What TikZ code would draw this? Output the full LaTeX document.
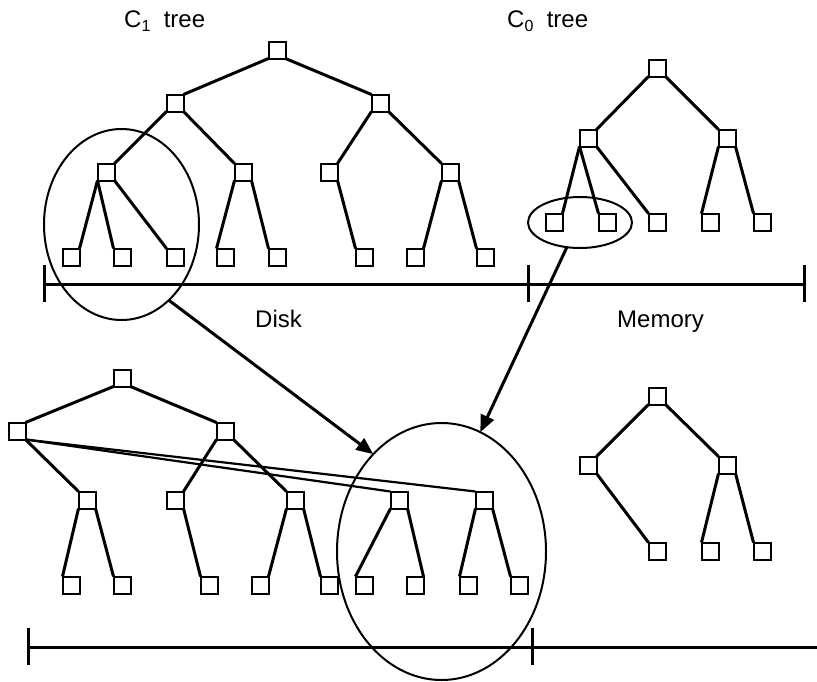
\documentclass[tikz,border=0pt]{standalone}
\usepackage{fontspec}
\setmainfont{Liberation Sans}
\usetikzlibrary{shapes.geometric,arrows.meta}
\newcommand{\treesub}[1]{\raisebox{-4.5pt}{\fontsize{16}{16}\selectfont #1}}

\begin{document}
\begin{tikzpicture}[x=1pt,y=-1pt,
    box/.style={draw,line width=2pt,minimum size=17pt,inner sep=0pt,outer sep=0pt},
    link/.style={line width=3pt},
    longlink/.style={line width=2.2pt},
    ring/.style={draw,ellipse,line width=2pt,inner sep=0pt,outer sep=0pt},
    axis/.style={line width=3pt},
    move/.style={line width=3pt,-{Triangle[length=17pt,width=14pt]}},
    lbl/.style={inner sep=0pt,anchor=base west,font=\fontsize{24}{28}\selectfont}]
    \useasboundingbox (0,0) rectangle (817,681);

    % labels
    \node[lbl] (c1lbl) at (124,27) {C\treesub{1}~~tree};
    \node[lbl] (c0lbl) at (507,27) {C\treesub{0}~~tree};
    \node[lbl] (disk) at (255,327) {Disk};
    \node[lbl] (mem) at (617,327) {Memory};

    % C1 tree (disk)
    \node[box] (c1r) at (277,50) {};
    \node[box] (c1a) at (175,103) {};
    \node[box] (c1b) at (380,103) {};
    \node[box] (c1aa) at (106,172) {};
    \node[box] (c1ab) at (243,172) {};
    \node[box] (c1ba) at (329,172) {};
    \node[box] (c1bb) at (450,172) {};
    \node[box] (c1aaa) at (71,257) {};
    \node[box] (c1aab) at (122,257) {};
    \node[box] (c1aac) at (175,257) {};
    \node[box] (c1aba) at (225,257) {};
    \node[box] (c1abb) at (277,257) {};
    \node[box] (c1baa) at (364,257) {};
    \node[box] (c1bba) at (415,257) {};
    \node[box] (c1bbb) at (485,257) {};

    \draw[link] (c1r.south west) -- (c1a.north east);
    \draw[link] (c1r.south east) -- (c1b.north west);
    \draw[link] (c1a.south west) -- (c1aa.north east);
    \draw[link] (c1a.south east) -- (c1ab.north west);
    \draw[link] (c1b.south west) -- (c1ba.north east);
    \draw[link] (c1b.south east) -- (c1bb.north west);
    \draw[link] (c1aa.south west) -- (c1aaa.north east);
    \draw[link] (c1aa.south west) -- (c1aab.north west);
    \draw[link] (c1aa.south east) -- (c1aac.north west);
    \draw[link] (c1ab.south west) -- (c1aba.north west);
    \draw[link] (c1ab.south east) -- (c1abb.north west);
    \draw[link] (c1ba.south east) -- (c1baa.north west);
    \draw[link] (c1bb.south west) -- (c1bba.north east);
    \draw[link] (c1bb.south east) -- (c1bbb.north west);

    % C0 tree (memory)
    \node[box] (c0r) at (657,68) {};
    \node[box] (c0a) at (588,138) {};
    \node[box] (c0b) at (727,138) {};
    \node[box] (c0aa) at (554,222) {};
    \node[box] (c0ab) at (607,222) {};
    \node[box] (c0ac) at (657,222) {};
    \node[box] (c0ba) at (710,222) {};
    \node[box] (c0bb) at (762,222) {};

    \draw[link] (c0r.south west) -- (c0a.north east);
    \draw[link] (c0r.south east) -- (c0b.north west);
    \draw[link] (c0a.south west) -- (c0aa.north east);
    \draw[link] (c0a.south west) -- (c0ab.north west);
    \draw[link] (c0a.south east) -- (c0ac.north west);
    \draw[link] (c0b.south west) -- (c0ba.north west);
    \draw[link] (c0b.south east) -- (c0bb.north west);

    % disk / memory line
    \coordinate (d0) at (44,284);
    \coordinate (d1) at (528,284);
    \coordinate (d2) at (804,284);
    \draw[axis] (d0) -- (d2);
    \draw[axis] (d0) ++(0,-19) -- ++(0,37);
    \draw[axis] (d1) ++(0,-19) -- ++(0,37);
    \draw[axis] (d2) ++(0,-19) -- ++(0,37);

    % merged C1 tree
    \node[box] (n1r) at (122,378) {};
    \node[box] (n1a) at (17,431) {};
    \node[box] (n1b) at (225,431) {};
    \node[box] (n1aa) at (87,500) {};
    \node[box] (n1ba) at (175,500) {};
    \node[box] (n1bb) at (295,500) {};
    \node[box] (n1ac) at (399,500) {};
    \node[box] (n1ad) at (484,500) {};
    \node[box] (n1aaa) at (71,585) {};
    \node[box] (n1aab) at (122,585) {};
    \node[box] (n1baa) at (209,585) {};
    \node[box] (n1bba) at (260,585) {};
    \node[box] (n1bbb) at (329,585) {};
    \node[box] (n1aca) at (364,585) {};
    \node[box] (n1acb) at (415,585) {};
    \node[box] (n1ada) at (468,585) {};
    \node[box] (n1adb) at (519,585) {};

    \draw[link] (n1r.south west) -- (n1a.north east);
    \draw[link] (n1r.south east) -- (n1b.north west);
    \draw[link] (n1a.south east) -- (n1aa.north west);
    \draw[longlink] (n1a.south east) -- (n1ac.north west);
    \draw[longlink] (n1a.south east) -- (n1ad.north west);
    \draw[link] (n1b.south west) -- (n1ba.north east);
    \draw[link] (n1b.south east) -- (n1bb.north west);
    \draw[link] (n1aa.south west) -- (n1aaa.north west);
    \draw[link] (n1aa.south east) -- (n1aab.north west);
    \draw[link] (n1ba.south east) -- (n1baa.north west);
    \draw[link] (n1bb.south west) -- (n1bba.north east);
    \draw[link] (n1bb.south east) -- (n1bbb.north west);
    \draw[link] (n1ac.south west) -- (n1aca.north west);
    \draw[link] (n1ac.south east) -- (n1acb.north east);
    \draw[link] (n1ad.south west) -- (n1ada.north west);
    \draw[link] (n1ad.south east) -- (n1adb.north west);

    % remaining C0 tree
    \node[box] (m0r) at (657,396) {};
    \node[box] (m0a) at (588,465) {};
    \node[box] (m0b) at (727,465) {};
    \node[box] (m0aa) at (657,551) {};
    \node[box] (m0ba) at (710,551) {};
    \node[box] (m0bb) at (762,551) {};

    \draw[link] (m0r.south west) -- (m0a.north east);
    \draw[link] (m0r.south east) -- (m0b.north west);
    \draw[link] (m0a.south east) -- (m0aa.north west);
    \draw[link] (m0b.south west) -- (m0ba.north west);
    \draw[link] (m0b.south east) -- (m0bb.north west);

    % lower line
    \coordinate (b0) at (28,647);
    \coordinate (b1) at (532,647);
    \coordinate (b2) at (817,647);
    \draw[axis] (b0) -- (b2);
    \draw[axis] (b0) ++(0,-19) -- ++(0,37);
    \draw[axis] (b1) ++(0,-19) -- ++(0,37);

    % selections and moves
    \node[ring,minimum width=155pt,minimum height=191pt] (sel1) at (121.5,224.5) {};
    \node[ring,minimum width=104pt,minimum height=51pt] (sel0) at (580,222.5) {};
    \node[ring,minimum width=209pt,minimum height=257pt] (dest) at (441.5,551.5) {};

    \draw[move] (sel1.-58) -- (dest.125);
    \draw[move] (sel0.-118) -- (dest.72);
\end{tikzpicture}
\end{document}
